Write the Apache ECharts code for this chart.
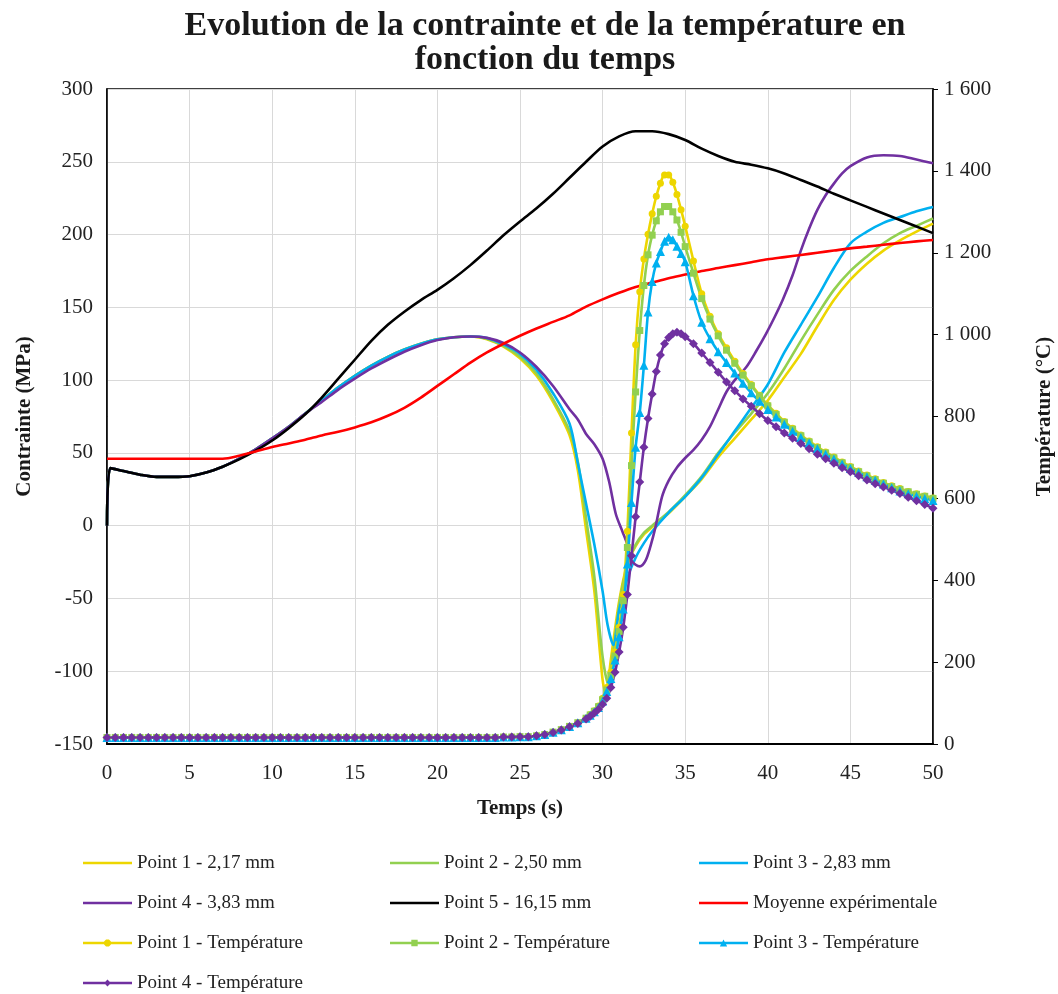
<!DOCTYPE html>
<html>
<head>
<meta charset="utf-8">
<script src="https://cdn.jsdelivr.net/npm/echarts@6/dist/echarts.min.js"></script>
<style>
html,body{margin:0;padding:0;background:#fff;}
#chart{width:1058px;height:994px;}
</style>
</head>
<body>
<div id="chart"></div>
<script>
// ---------- DATA ----------
const titleText = 'Evolution de la contrainte et de la température en\nfonction du temps';
const xTicks = { min: 0, max: 50, interval: 5 };
const stressTicks = { min: -150, max: 300, interval: 50 };
const tempTicks = { min: 0, max: 1600, interval: 200 };

const seriesNames = [
  'Point 1 - 2,17 mm', 'Point 2 - 2,50 mm', 'Point 3 - 2,83 mm',
  'Point 4 - 3,83 mm', 'Point 5 - 16,15 mm', 'Moyenne expérimentale',
  'Point 1 - Température', 'Point 2 - Température', 'Point 3 - Température',
  'Point 4 - Température'
];

// Stress (MPa) — left axis
const p1Time = [0,0.2,1,2,3,4,5,6,7,8,9,10,11,12,13,14,15,16,17,18,19,20,21,22,23,24,25,26,27,28,28.5,29,29.5,30,30.2,30.5,31,31.5,32,32.5,33,34,35,36,37,38,39,40,41,42,43,44,45,46,47,48,49,50];
const p1Stress = [0,39.5,37.5,35,33.5,33.5,34,36.5,40.5,46,52.5,60,68,77,86,95,103,110,116,121,125,128,129.5,130,128,123,115,103,85,62,38,-3,-45,-106,-116,-92,-52,-26,-14,-6,-1,8.5,20,32,47,60,73,86,102,118,137,155,169,180,189,196,202,207.5];

const p2Time = [0,0.2,1,2,3,4,5,6,7,8,9,10,11,12,13,14,15,16,17,18,19,20,21,22,23,24,25,26,27,28,28.5,29,29.5,30,30.35,30.6,31,31.5,32,32.5,33,34,35,36,37,38,39,40,41,42,43,44,45,46,47,48,49,50];
const p2Stress = [0,39.5,37.5,35,33.5,33.5,34,36.5,40.5,46,52.5,60,68,77,86,95,103,110,116,121,125,128,129.5,130,128.5,123.5,116,104.5,87,65,44,5,-35,-90,-109,-92,-55,-27,-13,-5,0,9.5,21,34,50,64,77,91,108,127,145,162,175,185,194,201,206,211];

const p3Time = [0,0.2,1,2,3,4,5,6,7,8,9,10,11,12,13,14,15,16,17,18,19,20,21,22,23,24,25,26,27,28,28.5,29,29.5,30,30.3,30.65,31,31.5,32,32.5,33,34,35,36,37,38,39,40,41,42,43,44,45,46,47,48,49,50];
const p3Stress = [0,39.5,37.5,35,33.5,33.5,34,36.5,40.5,46,52.5,60,68,77,86,95,103,110,116,121,125,128,129.5,130,129,124.5,118,107,91,70,43,15,-13,-45,-68,-82,-58,-36,-22,-12,-4,9,20,33,49,65,81,97,119,138,157,177,194,202,208,212,216,219];

const p4Time = [0,0.2,1,2,3,4,5,6,7,8,9,10,11,12,13,14,15,16,17,18,19,20,21,22,23,24,25,26,27,28,28.5,29,29.5,30,30.4,30.8,31.2,31.5,31.75,32.25,32.6,32.9,33.2,33.6,34,34.5,35,35.5,36,36.5,37,37.5,38,38.7,39.3,39.9,40.4,40.9,41.5,42,42.5,43,43.5,44,44.5,45,46,47,48,49,50];
const p4Stress = [0,39.5,37.5,35,33.5,33.5,34,36.5,40.5,46,52.5,60,68,77,85,93.5,101,108,114,119.5,124,127.5,129.5,130,129,125.5,119,109,96,80,73,63,56,46,30,8,-4,-13,-24,-28,-24,-14,-1,20,31,40,46.5,52,59,68,80,92,100,109,120,132,143,155,172,189,204,217,227,235,242,247,253,254.5,254,251.5,249];

const p5Time = [0,0.2,1,2,3,4,5,6,7,8,9,10,11,12,13,14,15,16,17,18,19,20,21,22,23,24,25,26,27,28,29,30,31,32,33,34,35,36,37,38,39,40,41,42,43,44,45,46,47,48,49,50];
const p5Stress = [0,39.5,37.5,35,33.5,33.5,34,36.5,40.5,45.5,51.5,58.5,67,76.5,88,101,114,127,138,147,155,162,170,179,189,199.5,209,218,228,239,250,260.5,267.5,271,271,269,265,259,254,250,248,245.5,242,237.5,233,228,223.5,219,214.5,210,205.5,201];

const expTime = [0,7,8,9,10,11,12,13,14,15,16,17,18,19,20,21,22,23,24,25,26,27,28,29,30,31,32,33,34,35,36,37,38,39,40,41,42,43,44,45,46,47,48,49,50];
const expStress = [46,46,48,51,54,56.5,59,62,64.5,67.5,71,75.5,81,88,96,104,112,119,125,130.5,135.5,140,144.5,150.5,155.5,160,164,167,170,172.5,175,177,179,181,183,184.5,186,187.5,189,190.5,191.7,193,194.2,195.3,196.3];

// Temperature (°C) — right axis
const tempTime = [0,0.5,1,1.5,2,2.5,3,3.5,4,4.5,5,5.5,6,6.5,7,7.5,8,8.5,9,9.5,10,10.5,11,11.5,12,12.5,
  13,13.5,14,14.5,15,15.5,16,16.5,17,17.5,18,18.5,19,19.5,20,20.5,21,21.5,22,22.5,23,23.5,24,24.5,25,25.5,
  26,26.5,27,27.5,28,28.5,29,
  29.25,29.5,29.75,30,30.25,30.5,30.75,31,31.25,31.5,31.75,32,32.25,32.5,32.75,33,33.25,33.5,33.75,34,34.25,34.5,34.75,35,
  35.5,36,36.5,37,37.5,38,38.5,39,39.5,40,40.5,41,41.5,42,42.5,43,43.5,44,44.5,45,45.5,46,46.5,47,47.5,48,48.5,49,49.5,50];

const p1Temp = [16,16,16,16,16,16,16,16,16,16,16,16,16,16,16,16,16,16,16,16,16,16,16,16,16,16,
  16,16,16,16,16,16,16,16,16,16,16,16,16,16,16,16,16,16,16,16,16,16,17,17,18,18,
  20,23,29,35,43,52,63,
  72,81,93,112,138,175,225,285,365,520,760,975,1105,1185,1245,1295,1338,1370,1390,1390,1372,1342,1305,1265,
  1180,1100,1045,1002,968,935,905,878,852,828,808,788,771,755,740,726,713,701,689,678,667,657,648,639,631,624,617,611,606,601];

const p2Temp = [16,16,16,16,16,16,16,16,16,16,16,16,16,16,16,16,16,16,16,16,16,16,16,16,16,16,
  16,16,16,16,16,16,16,16,16,16,16,16,16,16,16,16,16,16,16,16,16,16,17,17,18,18,
  20,23,29,35,43,52,63,
  71,80,91,108,132,167,215,275,350,480,680,860,1010,1120,1195,1243,1278,1300,1313,1313,1300,1280,1250,1215,
  1150,1088,1038,997,962,930,901,875,850,826,805,786,769,753,738,724,711,699,687,676,665,655,646,637,629,622,616,610,605,600];

const p3Temp = [16,16,16,16,16,16,16,16,16,16,16,16,16,16,16,16,16,16,16,16,16,16,16,16,16,16,
  16,16,16,16,16,16,16,16,16,16,16,16,16,16,16,16,16,16,16,16,16,16,17,17,18,18,
  20,23,29,35,43,52,63,
  70,79,89,105,128,160,205,262,330,440,590,725,810,925,1055,1130,1175,1203,1228,1238,1232,1216,1198,1178,
  1095,1030,990,958,932,906,881,858,837,817,799,781,764,749,735,721,708,696,684,673,663,653,644,635,626,618,611,605,600,595];

const p4Temp = [16,16,16,16,16,16,16,16,16,16,16,16,16,16,16,16,16,16,16,16,16,16,16,16,16,16,
  16,16,16,16,16,16,16,16,16,16,16,16,16,16,16,16,16,16,16,16,16,16,17,17,18,18,
  20,23,28,34,42,50,61,
  68,76,85,97,112,138,175,225,285,365,460,555,640,725,795,855,910,950,978,993,1002,1006,1002,995,
  978,955,932,908,884,863,843,825,807,790,775,760,747,734,721,708,697,686,675,665,655,645,636,628,620,612,603,594,585,576];

// ---------- CHART ----------
const serif = "'Liberation Serif', 'DejaVu Serif', serif";
const colors = {
  y: '#EDD600', g: '#92D050', b: '#00B0F0', p: '#7030A0', k: '#000000', r: '#FF0000'
};
// legend icons: line (+ marker) drawn in a 100 x 14 box
const icons = {
  line: 'path://M0,0H100V5H0Z',
  circle: 'path://M0,4.5H100V9.5H0Z M47,0H53L57,4V10L53,14H47L43,10V4Z',
  rect: 'path://M0,4.5H100V9.5H0Z M43.5,0.5H56.5V13.5H43.5Z',
  triangle: 'path://M0,4.5H100V9.5H0Z M50,0L57.5,14H42.5Z',
  diamond: 'path://M0,4.5H100V9.5H0Z M50,0L57,7L50,14L43,7Z'
};
function pairs(t, v) { return t.map((x, i) => [x, v[i]]); }

function stressSeries(name, t, v, color, z) {
  return {
    name, type: 'line', yAxisIndex: 0, data: pairs(t, v),
    showSymbol: false, symbol: 'none', smooth: 0.3,
    lineStyle: { color, width: 2.6 }, itemStyle: { color }, z: z
  };
}
function tempSeries(name, v, color, symbol, size, z) {
  return {
    name, type: 'line', yAxisIndex: 1, data: pairs(tempTime, v),
    showSymbol: true, showAllSymbol: true, symbol, symbolSize: size, smooth: 0.3,
    lineStyle: { color, width: 2.6 }, itemStyle: { color, borderWidth: 0 }, z: z
  };
}

function thousands(v) {
  return String(v).replace(/\B(?=(\d{3})+(?!\d))/g, ' ');
}

const legendText = { fontFamily: serif, fontSize: 19, color: '#222', lineHeight: 20 };
function legendCol(left, data) {
  return {
    orient: 'vertical', left, top: 853, padding: 0, itemGap: 20,
    itemWidth: 49, itemHeight: 14, symbolKeepAspect: true, data, textStyle: legendText
  };
}

const option = {
  animation: false,
  backgroundColor: '#fff',
  title: {
    text: titleText, left: 540, top: 4, textAlign: 'center',
    textStyle: { fontFamily: serif, fontSize: 34, fontWeight: 'bold', color: '#1a1a1a', lineHeight: 34 }
  },
  legend: [
    legendCol(83, [
      { name: seriesNames[0], icon: icons.line },
      { name: seriesNames[3], icon: icons.line },
      { name: seriesNames[6], icon: icons.circle },
      { name: seriesNames[9], icon: icons.diamond }
    ]),
    legendCol(390, [
      { name: seriesNames[1], icon: icons.line },
      { name: seriesNames[4], icon: icons.line },
      { name: seriesNames[7], icon: icons.rect }
    ]),
    legendCol(699, [
      { name: seriesNames[2], icon: icons.line },
      { name: seriesNames[5], icon: icons.line },
      { name: seriesNames[8], icon: icons.triangle }
    ])
  ],
  grid: {
    left: 107, right: 125, top: 89, bottom: 250, containLabel: false, outerBoundsMode: 'none',
    show: true, borderColor: '#000', borderWidth: 1.5, backgroundColor: 'transparent'
  },
  xAxis: {
    type: 'value', min: xTicks.min, max: xTicks.max, interval: xTicks.interval,
    name: 'Temps (s)', nameLocation: 'middle', nameGap: 54,
    nameTextStyle: { fontFamily: serif, fontSize: 21, fontWeight: 'bold', color: '#1a1a1a' },
    axisLine: { onZero: false, lineStyle: { color: '#000', width: 2 } },
    axisTick: { show: false },
    axisLabel: { fontFamily: serif, fontSize: 21, color: '#222', margin: 19 },
    splitLine: { show: true, lineStyle: { color: '#D9D9D9', width: 1 } }
  },
  yAxis: [
    {
      type: 'value', position: 'left', min: stressTicks.min, max: stressTicks.max, interval: stressTicks.interval,
      name: 'Contrainte (MPa)', nameLocation: 'middle', nameGap: 72, nameRotate: 90,
      nameTextStyle: { fontFamily: serif, fontSize: 21, fontWeight: 'bold', color: '#1a1a1a' },
      axisLine: { show: true, onZero: false, lineStyle: { color: '#000', width: 1.5 } },
      axisTick: { show: false },
      axisLabel: { fontFamily: serif, fontSize: 21, color: '#222', margin: 14 },
      splitLine: { show: true, lineStyle: { color: '#D9D9D9', width: 1 } }
    },
    {
      type: 'value', position: 'right', min: tempTicks.min, max: tempTicks.max, interval: tempTicks.interval,
      name: 'Température (°C)', nameLocation: 'middle', nameGap: 101, nameRotate: 90,
      nameTextStyle: { fontFamily: serif, fontSize: 21, fontWeight: 'bold', color: '#1a1a1a' },
      axisLine: { show: true, onZero: false, lineStyle: { color: '#000', width: 1.5 } },
      axisTick: { show: true, inside: false, length: 5, lineStyle: { color: '#000' } },
      axisLabel: { fontFamily: serif, fontSize: 21, color: '#222', margin: 11, formatter: thousands },
      splitLine: { show: false }
    }
  ],
  series: [
    stressSeries(seriesNames[0], p1Time, p1Stress, colors.y, 2),
    stressSeries(seriesNames[1], p2Time, p2Stress, colors.g, 2),
    stressSeries(seriesNames[2], p3Time, p3Stress, colors.b, 2),
    stressSeries(seriesNames[3], p4Time, p4Stress, colors.p, 2),
    stressSeries(seriesNames[4], p5Time, p5Stress, colors.k, 3),
    stressSeries(seriesNames[5], expTime, expStress, colors.r, 3),
    tempSeries(seriesNames[6], p1Temp, colors.y, 'circle', 7, 4),
    tempSeries(seriesNames[7], p2Temp, colors.g, 'rect', 7, 4),
    tempSeries(seriesNames[8], p3Temp, colors.b, 'triangle', 9, 4),
    tempSeries(seriesNames[9], p4Temp, colors.p, 'diamond', 9, 4)
  ]
};

const chart = echarts.init(document.getElementById('chart'), null, { renderer: 'canvas' });
chart.setOption(option);
</script>
</body>
</html>
